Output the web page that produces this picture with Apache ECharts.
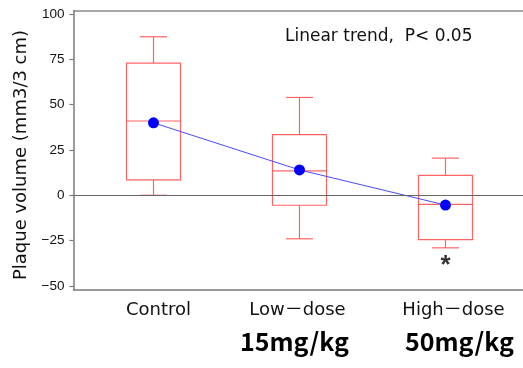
<!DOCTYPE html>
<html>
<head>
<meta charset="utf-8">
<script src="https://cdn.jsdelivr.net/npm/echarts@6/dist/echarts.min.js"></script>
<style>
  html, body { margin: 0; padding: 0; background: #fff; }
  #chart { width: 523px; height: 368px; }
</style>
</head>
<body>
<div id="chart"></div>
<script>
// groups on the x axis
let groups = ['Control', 'Low\uFF0Ddose', 'High\uFF0Ddose'];
let groupPos = [1, 2, 3];
// box stats: lower whisker, q1, median, q3, upper whisker
let lowWhisker = [0, -24, -29];
let q1 = [8.5, -5.5, -24.5];
let median = [41, 13.5, -5];
let q3 = [73, 33.5, 11];
let highWhisker = [87.5, 54, 20.5];
// group means (blue dots)
let means = [40, 14, -5.4];
let yTicks = [-50, -25, 0, 25, 50, 75, 100];
let doses = ['15mg/kg', '50mg/kg'];

let boxData = groupPos.map((x, i) => [x, lowWhisker[i], q1[i], median[i], q3[i], highWhisker[i]]);
let meanData = groupPos.map((x, i) => [x, means[i]]);

const chart = echarts.init(document.getElementById('chart'));

const xMin = 0.452, xMax = 3.531;

function renderBox(params, api) {
  let x = api.value(0);
  let lo = api.coord([x, api.value(1)]);
  let b1 = api.coord([x, api.value(2)]);
  let md = api.coord([x, api.value(3)]);
  let b3 = api.coord([x, api.value(4)]);
  let hi = api.coord([x, api.value(5)]);
  let cx = md[0];
  let bw = 27, cw = 13.5;
  let st = { stroke: '#ff6464', lineWidth: 1.2, fill: null };
  return {
    type: 'group',
    children: [
      { type: 'rect', shape: { x: cx - bw, y: b3[1], width: bw * 2, height: b1[1] - b3[1] }, style: st },
      { type: 'line', shape: { x1: cx - bw, y1: md[1], x2: cx + bw, y2: md[1] }, style: st },
      { type: 'line', shape: { x1: cx, y1: b3[1], x2: cx, y2: hi[1] }, style: st },
      { type: 'line', shape: { x1: cx, y1: b1[1], x2: cx, y2: lo[1] }, style: st },
      { type: 'line', shape: { x1: cx - cw, y1: hi[1], x2: cx + cw, y2: hi[1] }, style: st },
      { type: 'line', shape: { x1: cx - cw, y1: lo[1], x2: cx + cw, y2: lo[1] }, style: st }
    ]
  };
}

let option = {
  backgroundColor: '#fff',
  animation: false,
  grid: { left: 73.5, top: 10.5, right: 0, height: 279 },
  xAxis: [
    {
      type: 'value',
      min: xMin,
      max: xMax,
      splitLine: { show: false },
      axisLine: { show: true, onZero: false, lineStyle: { color: '#7a7a7a', width: 1.5 } },
      axisTick: { show: false },
      axisLabel: {
        customValues: groupPos,
        formatter: (v) => '{c' + (Math.round(v) - 1) + '|' + groups[Math.round(v) - 1] + '}',
        color: '#111',
        fontSize: 18,
        fontFamily: 'DejaVu Sans, Noto Sans CJK JP',
        margin: 12,
        rich: {
          c0: { padding: [0, 0, 0, 10] },
          c1: { padding: [0, 4, 0, 0] },
          c2: { padding: [0, 0, 0, 16] }
        }
      }
    },
    {
      // top frame line only
      type: 'value',
      position: 'top',
      min: xMin,
      max: xMax,
      splitLine: { show: false },
      axisLine: { show: true, onZero: false, lineStyle: { color: '#8a8a8a', width: 1.5 } },
      axisTick: { show: false },
      axisLabel: { show: false }
    }
  ],
  yAxis: {
    type: 'value',
    min: -52,
    max: 102,
    name: 'Plaque volume (mm3/3 cm)',
    nameLocation: 'middle',
    nameRotate: 90,
    nameGap: 43,
    nameTextStyle: { fontSize: 18, color: '#111', fontFamily: 'DejaVu Sans', padding: [0, 10, 0, 0] },
    splitLine: { show: false },
    axisLine: { show: true, onZero: false, lineStyle: { color: '#7a7a7a', width: 1.5 } },
    axisTick: { show: true, customValues: yTicks, length: 4, lineStyle: { color: '#7a7a7a', width: 1.2 } },
    axisLabel: {
      customValues: yTicks,
      formatter: (v) => String(v).replace('-', '\u2212'),
      color: '#111',
      fontSize: 13.5,
      fontFamily: 'Liberation Sans',
      margin: 9
    }
  },
  series: [
    {
      type: 'custom',
      renderItem: renderBox,
      data: boxData,
      z: 2
    },
    {
      type: 'line',
      data: meanData,
      symbol: 'circle',
      symbolSize: 11,
      itemStyle: { color: '#0000ff' },
      lineStyle: { color: '#4a4aff', width: 1 },
      z: 4,
      markLine: {
        silent: true,
        symbol: 'none',
        label: { show: false },
        lineStyle: { color: '#666', width: 1.2, type: 'solid' },
        data: [{ yAxis: 0 }]
      }
    },
    {
      type: 'scatter',
      data: [[groupPos[2], lowWhisker[2]]],
      symbolSize: 0,
      label: {
        show: true,
        formatter: '*',
        position: 'bottom',
        distance: 5,
        fontSize: 26,
        fontWeight: 'bold',
        color: '#000',
        fontFamily: 'Liberation Sans'
      }
    }
  ],
  graphic: [
    {
      type: 'text', left: 285, top: 28,
      style: { text: 'Linear trend,  P< 0.05', fill: '#111', font: '17px "DejaVu Sans"' }
    },
    {
      type: 'text', left: 240, top: 329,
      style: { text: doses[0], fill: '#000', font: 'bold 25px "Noto Sans CJK JP"' }
    },
    {
      type: 'text', left: 405, top: 329,
      style: { text: doses[1], fill: '#000', font: 'bold 25px "Noto Sans CJK JP"' }
    }
  ]
};

chart.setOption(option);
</script>
</body>
</html>
